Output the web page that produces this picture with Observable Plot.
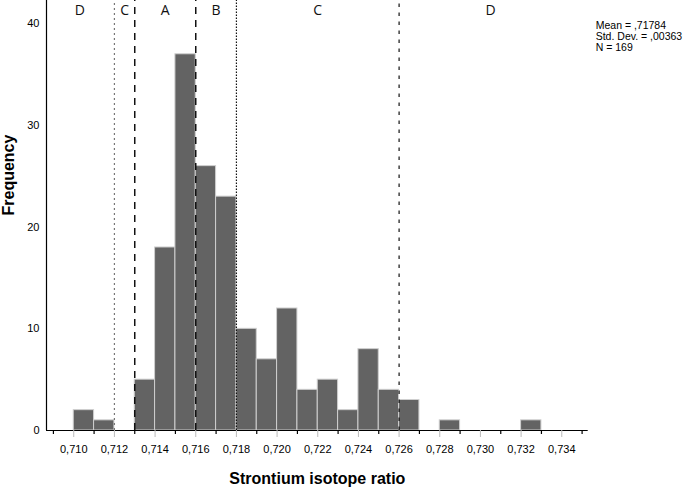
<!DOCTYPE html>
<html>
<head>
<meta charset="utf-8">
<script src="https://cdn.jsdelivr.net/npm/d3@7"></script>
<script src="https://cdn.jsdelivr.net/npm/@observablehq/plot@0.6"></script>
<style>
  body { margin: 0; background: #fff; }
  #chart { width: 685px; height: 487px; }
</style>
</head>
<body>
<div id="chart"></div>
<script>
// Histogram bins (lower edge, width 0.001) and counts
const binStart = [0.710, 0.711, 0.712, 0.713, 0.714, 0.715, 0.716, 0.717, 0.718, 0.719,
                  0.720, 0.721, 0.722, 0.723, 0.724, 0.725, 0.726, 0.727, 0.728, 0.729,
                  0.730, 0.731, 0.732];
const counts   = [2, 1, 0, 5, 18, 37, 26, 23, 10, 7,
                  12, 4, 5, 2, 8, 4, 3, 0, 1, 0,
                  0, 0, 1];
const binWidth = 0.001;

// Region boundaries and labels
const boundaries = [0.712, 0.713, 0.716, 0.718, 0.726];
const regionNames = ["D", "C", "A", "B", "C", "D"];
const regionX = [0.7103, 0.7125, 0.7145, 0.7170, 0.7220, 0.7305];

// Axis ticks
const majorTicks = [0.710, 0.712, 0.714, 0.716, 0.718, 0.720, 0.722, 0.724, 0.726, 0.728, 0.730, 0.732, 0.734];
const minorTicks = [0.709, 0.711, 0.713, 0.715, 0.717, 0.719, 0.721, 0.723, 0.725, 0.727, 0.729, 0.731, 0.733, 0.735];
const yTicks = [0, 10, 20, 30, 40];

const stats = ["Mean = ,71784", "Std. Dev. = ,00363", "N = 169"];

const xDomain = [0.70866, 0.7353];
const yDomain = [0, 42.29];

const bins = binStart.map((s, i) => ({x1: s, x2: s + binWidth, y: counts[i]})).filter(d => d.y > 0);
const regions = regionNames.map((n, i) => ({name: n, x: regionX[i]}));
const fmt = d => d3.format(".3f")(d).replace(".", ",");

const lineStyles = [
  {stroke: "#777", dash: "2,3", width: 1.2},
  {stroke: "#111", dash: "7,6", width: 1.5},
  {stroke: "#111", dash: "7,6", width: 1.5},
  {stroke: "#111", dash: "1.5,1.5", width: 1.2},
  {stroke: "#111", dash: "3.5,5.5", width: 1.2}
];

const chart = Plot.plot({
  width: 685,
  height: 487,
  marginLeft: 46,
  marginRight: 97.3,
  marginTop: 0,
  marginBottom: 57,
  style: {fontFamily: "Liberation Sans, Arial, sans-serif", background: "#fff", overflow: "visible"},
  x: {domain: xDomain, axis: null},
  y: {domain: yDomain, axis: null},
  marks: [
    Plot.rectY(bins, {x1: "x1", x2: "x2", y: "y", fill: "#636363", stroke: "#cfcfcf", strokeWidth: 1}),
    ...boundaries.map((b, i) => Plot.ruleX([b], {
      y1: 0, y2: yDomain[1],
      stroke: lineStyles[i].stroke,
      strokeDasharray: lineStyles[i].dash,
      strokeWidth: lineStyles[i].width
    })),
    Plot.ruleX([xDomain[0]], {y1: 0, y2: yDomain[1], stroke: "#000", strokeWidth: 1.2}),
    Plot.ruleY([0], {x1: xDomain[0], x2: xDomain[1], stroke: "#000", strokeWidth: 1.2}),
    Plot.axisX({ticks: majorTicks, tickSize: 7, tickPadding: 8, stroke: "#bbb", fill: "#000",
                tickFormat: fmt, fontSize: 11, label: null}),
    Plot.axisX({ticks: minorTicks, tickSize: 4, stroke: "#000", strokeWidth: 1.2, tickFormat: () => "", label: null}),
    Plot.axisY({ticks: yTicks, tickSize: 0, tickPadding: 7, fontSize: 11, fill: "#000", label: null}),
    Plot.text(regions, {x: "x", text: "name", frameAnchor: "top", lineAnchor: "top", dy: 5,
                        fontSize: 14, fontFamily: "Open Sans", fill: "#111"}),
    Plot.text([stats.join("\n")], {frameAnchor: "top-right", textAnchor: "start", lineAnchor: "top",
                        dx: 7.5, dy: 21, fontSize: 10.5, lineHeight: 1.05, fill: "#000"}),
    Plot.text(["Frequency"], {frameAnchor: "left", rotate: -90, lineAnchor: "bottom", dx: -33,
                        fontSize: 16, fontWeight: "bold", fill: "#000"}),
    Plot.text(["Strontium isotope ratio"], {frameAnchor: "bottom", lineAnchor: "bottom", dy: 53,
                        fontSize: 16, fontWeight: "bold", fill: "#000"})
  ]
});
document.getElementById("chart").appendChild(chart);
</script>
</body>
</html>
